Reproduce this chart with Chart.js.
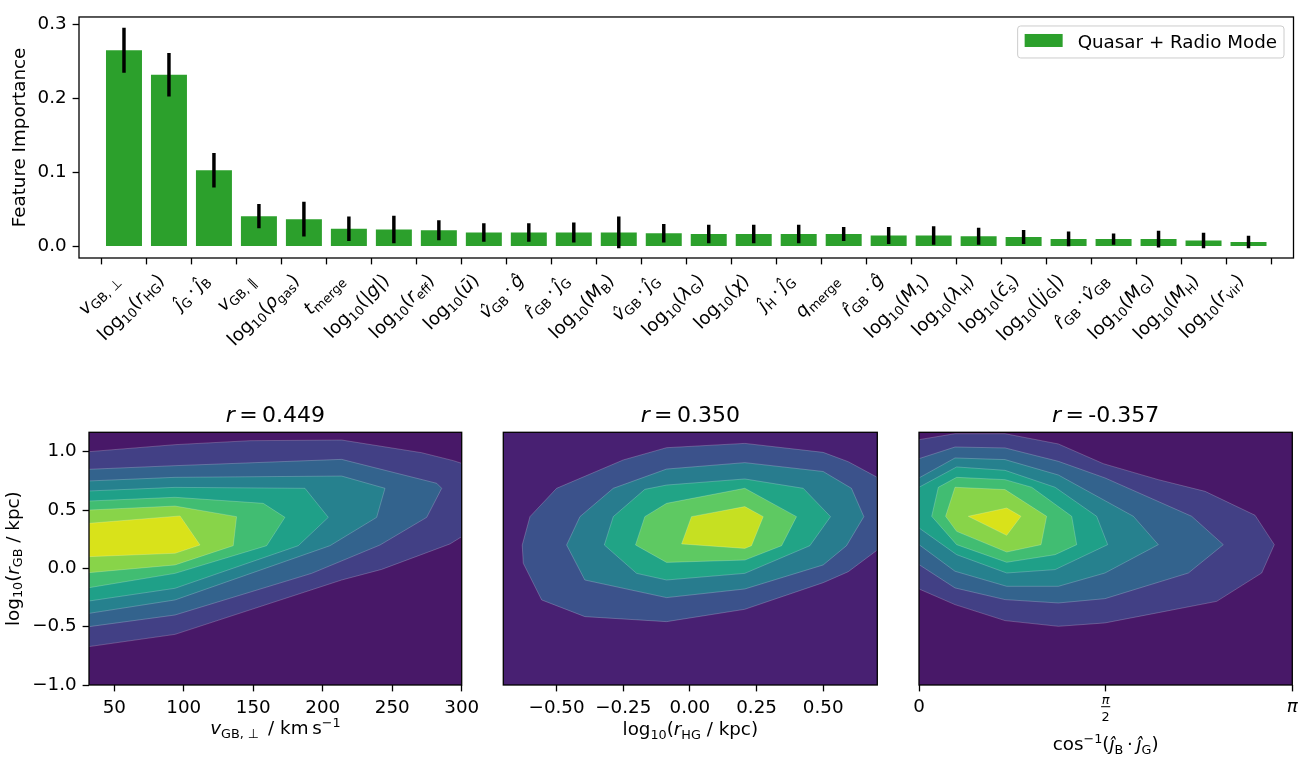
<!DOCTYPE html>
<html>
<head>
<meta charset="utf-8">
<title>Feature importance</title>
<script src="https://cdn.jsdelivr.net/npm/chart.js@4.4.1/dist/chart.umd.min.js"></script>
<style>
  html, body { margin: 0; background: #fff; }
  #fig { position: relative; width: 1315px; height: 762px; }
  #fig canvas { position: absolute; left: 0; top: 0; }
</style>
</head>
<body>
<div id="fig">
  <canvas id="importance" width="1315" height="762"></canvas>
  <canvas id="velPanel" width="1315" height="762"></canvas>
  <canvas id="rhgPanel" width="1315" height="762"></canvas>
  <canvas id="angPanel" width="1315" height="762"></canvas>
</div>
<script>
const FS = 18.3;
const TITLE_FS = 22;
const GREEN = '#2ca02c';

// label pieces: [text, style]  r = roman, i = italic, rs = roman subscript, rp = roman superscript
const dot = ['\u2009\u00b7\u2009', 'r'];
const lg = (sym, sub) => [['log', 'r'], ['10', 'rs'], ['(', 'r'], [sym, 'i']].concat(sub ? [[sub, 'rs']] : [], [[')', 'r']]);

// ---- top panel data
const featureLabels = [
  [['v', 'i'], ['GB, \u22a5', 'rs']],
  lg('r', 'HG'),
  [['\u0135', 'i'], ['G', 'rs'], dot, ['\u0135', 'i'], ['B', 'rs']],
  [['v', 'i'], ['GB, \u2225', 'rs']],
  lg('\u03c1', 'gas'),
  [['t', 'i'], ['merge', 'rs']],
  [['log', 'r'], ['10', 'rs'], ['(|', 'r'], ['g', 'i'], ['|)', 'r']],
  lg('r', 'eff'),
  lg('u\u0304'),
  [['v\u0302', 'i'], ['GB', 'rs'], dot, ['g\u0302', 'i']],
  [['r\u0302', 'i'], ['GB', 'rs'], dot, ['\u0135', 'i'], ['G', 'rs']],
  lg('M', 'B'),
  [['v\u0302', 'i'], ['GB', 'rs'], dot, ['\u0135', 'i'], ['G', 'rs']],
  lg('\u03bb', 'G'),
  lg('\u03c7'),
  [['\u0135', 'i'], ['H', 'rs'], dot, ['\u0135', 'i'], ['G', 'rs']],
  [['q', 'i'], ['merge', 'rs']],
  [['r\u0302', 'i'], ['GB', 'rs'], dot, ['g\u0302', 'i']],
  lg('M', '1'),
  lg('\u03bb', 'H'),
  lg('c\u0304', 's'),
  [['log', 'r'], ['10', 'rs'], ['(|', 'r'], ['j', 'i'], ['G', 'rs'], ['|)', 'r']],
  [['r\u0302', 'i'], ['GB', 'rs'], dot, ['v\u0302', 'i'], ['GB', 'rs']],
  lg('M', 'G'),
  lg('M', 'H'),
  lg('r', 'vir')
];
const importance = [0.265, 0.232, 0.103, 0.041, 0.037, 0.024, 0.023, 0.022, 0.019, 0.019, 0.019, 0.019, 0.018,
                    0.017, 0.017, 0.017, 0.017, 0.015, 0.015, 0.014, 0.013, 0.010, 0.010, 0.010, 0.008, 0.006];
const importanceErr = [0.030, 0.029, 0.023, 0.016, 0.023, 0.016, 0.018, 0.013, 0.012, 0.012, 0.013, 0.021, 0.012,
                       0.012, 0.012, 0.012, 0.009, 0.011, 0.012, 0.011, 0.009, 0.010, 0.007, 0.011, 0.010, 0.008];
const importanceTicks = [0, 0.1, 0.2, 0.3];
const seriesName = 'Quasar + Radio Mode';

// ---- bottom panels data
const rgbRange = [-1.0, 1.166];
const rgbTicks = [-1, -0.5, 0, 0.5, 1];
const velRange = [31.8, 300];
const velTicks = [50, 100, 150, 200, 250, 300];
const rhgRange = [-0.70, 0.703];
const rhgTicks = [-0.5, -0.25, 0, 0.25, 0.5];
const angRange = [0, Math.PI];
const angTicks = [0, Math.PI / 2, Math.PI];
const corrValues = ['0.449', '0.350', '-0.357'];

// filled contour levels, outermost first, [x, y] vertices
const velContours = [
  [[31.8, 1.0], [93.7, 1.06], [147.6, 1.094], [213.6, 1.10], [271.2, 0.991], [294, 0.923], [300, 0.9], [300, 0.271],
   [291.6, 0.209], [242.4, -0.009], [213.6, -0.1], [93.7, -0.566], [31.8, -0.671]],
  [[31.8, 0.849], [93.7, 0.88], [213.6, 0.934], [282, 0.729], [285.6, 0.686], [274.8, 0.437], [241.2, 0.2],
   [192, -0.043], [93.7, -0.4], [31.8, -0.5]],
  [[31.8, 0.749], [93.7, 0.78], [213.6, 0.791], [244.8, 0.686], [238.8, 0.437], [205.2, 0.194], [93.7, -0.271], [31.8, -0.386]],
  [[31.8, 0.663], [93.7, 0.694], [187.2, 0.686], [204, 0.437], [182.4, 0.194], [93.7, -0.171], [31.8, -0.28]],
  [[31.8, 0.577], [93.7, 0.609], [157.2, 0.557], [172.8, 0.437], [159.6, 0.194], [93.7, -0.043], [31.8, -0.166]],
  [[31.8, 0.5], [93.7, 0.534], [138, 0.443], [135.6, 0.194], [93.7, 0.029], [31.8, -0.037]],
  [[31.8, 0.386], [97.3, 0.449], [111.7, 0.2], [93.7, 0.129], [31.8, 0.1]]
];
const rhgContours = [
  [[-0.6, 0.443], [-0.5, 0.686], [-0.25, 0.929], [-0.0875, 1.034], [0.206, 1.071], [0.5, 0.994], [0.594, 0.914],
   [0.703, 0.78], [0.703, 0.157], [0.594, -0.029], [0.5, -0.123], [0.206, -0.351], [-0.0875, -0.457],
   [-0.394, -0.414], [-0.556, -0.271], [-0.625, 0.043], [-0.629, 0.2]],
  [[-0.4125, 0.443], [-0.2875, 0.686], [-0.0875, 0.851], [0.206, 0.906], [0.5, 0.83], [0.606, 0.686], [0.6525, 0.443],
   [0.5875, 0.194], [0.5, 0.029], [0.206, -0.177], [-0.0875, -0.251], [-0.394, -0.1], [-0.4625, 0.2]],
  [[-0.2875, 0.443], [-0.169, 0.677], [-0.0875, 0.714], [0.206, 0.766], [0.425, 0.686], [0.5275, 0.443], [0.45, 0.194],
   [0.206, -0.043], [-0.0875, -0.1], [-0.2, -0.043], [-0.321, 0.2]],
  [[-0.169, 0.443], [-0.0875, 0.557], [0.206, 0.686], [0.4, 0.443], [0.344, 0.194], [0.206, 0.071], [-0.0875, 0.051], [-0.204, 0.2]],
  [[0.006, 0.443], [0.206, 0.529], [0.275, 0.443], [0.231, 0.194], [0.206, 0.171], [-0.031, 0.209]]
];
const angContours = [
  [[0, 1.103], [0.303, 1.154], [0.724, 1.154], [1.173, 1.066], [1.551, 0.897], [2.014, 0.76], [2.407, 0.66], [2.828, 0.455],
   [2.99, 0.203], [2.884, -0.04], [2.505, -0.283], [2.014, -0.38], [1.565, -0.468], [1.173, -0.497], [0.724, -0.448],
   [0.303, -0.311], [0, -0.177]],
  [[0, 0.94], [0.303, 1.04], [0.724, 1.032], [1.173, 0.917], [1.565, 0.775], [2.295, 0.446], [2.561, 0.203], [2.267, -0.04],
   [1.565, -0.26], [1.173, -0.297], [0.724, -0.268], [0.303, -0.168], [0, 0.032]],
  [[0, 0.775], [0.303, 0.946], [0.724, 0.932], [1.173, 0.8], [1.804, 0.446], [2.014, 0.203], [1.565, -0.04], [1.173, -0.154],
   [0.738, -0.154], [0.303, -0.025], [0, 0.203]],
  [[0, 0.695], [0.317, 0.869], [0.724, 0.84], [1.145, 0.695], [1.495, 0.446], [1.588, 0.203], [1.145, -0.011], [0.738, -0.04],
   [0.317, 0.117], [0, 0.346]],
  [[0.107, 0.446], [0.163, 0.695], [0.317, 0.78], [0.724, 0.76], [0.948, 0.695], [1.285, 0.446], [1.327, 0.203], [1.145, 0.117],
   [0.738, 0.052], [0.317, 0.203]],
  [[0.224, 0.446], [0.303, 0.695], [0.724, 0.675], [1.074, 0.446], [1.027, 0.203], [0.738, 0.14], [0.317, 0.317]],
  [[0.415, 0.446], [0.738, 0.517], [0.858, 0.446], [0.738, 0.283]]
];
const viridis8 = ['#481868', '#424085', '#33638d', '#26818e', '#1fa088', '#41bd72', '#88d449', '#d9e21a'];
const viridis6 = ['#482072', '#3b528b', '#287c8e', '#21a486', '#5ec962', '#c6e022'];

const rgbLabel = [['log', 'r'], ['10', 'rs'], ['(', 'r'], ['r', 'i'], ['GB', 'rs'], [' / kpc)', 'r']];
const velLabel = [['v', 'i'], ['GB, \u22a5', 'rs'], ['\u2002/ km\u2009s', 'r'], ['\u22121', 'rp']];
const rhgLabel = [['log', 'r'], ['10', 'rs'], ['(', 'r'], ['r', 'i'], ['HG', 'rs'], [' / kpc)', 'r']];
const angLabel = [['cos', 'r'], ['\u22121', 'rp'], ['(', 'r'], ['\u0135', 'i'], ['B', 'rs'], dot, ['\u0135', 'i'], ['G', 'rs'], [')', 'r']];
const angTickLabels = [[['0', 'r']], { num: [['\u03c0', 'i']], den: [['2', 'r']] }, [['\u03c0', 'i']]];

Chart.defaults.font.family = 'DejaVu Sans';
Chart.defaults.font.size = FS;
Chart.defaults.color = '#000';

// ---- small text helpers (sub/superscripts)
function segStyle(style, fs) {
  const script = style[1] === 's' || style[1] === 'p';
  const size = script ? fs * 0.7 : fs;
  const font = (style[0] === 'i' ? 'italic ' : '') + size.toFixed(2) + 'px "DejaVu Sans"';
  const dy = style[1] === 's' ? fs * 0.2 : (style[1] === 'p' ? -fs * 0.37 : 0);
  return { font, dy };
}
function richWidth(ctx, segs, fs) {
  let w = 0;
  segs.forEach(([t, s]) => { ctx.font = segStyle(s, fs).font; w += ctx.measureText(t).width; });
  return w;
}
function drawRich(ctx, segs, fs, x, y) {
  let cx = x;
  segs.forEach(([t, s]) => {
    const st = segStyle(s, fs);
    ctx.font = st.font;
    ctx.fillText(t, cx, y + st.dy);
    cx += ctx.measureText(t).width;
  });
}

function fixedTicks(values) {
  return scale => { scale.ticks = values.map(v => ({ value: v })); };
}
const minus = s => s.replace('-', '\u2212');
const tickGrid = { drawOnChartArea: false, drawTicks: true, tickLength: 6.4, tickWidth: 1.3, tickColor: '#000' };

const framePlugin = {
  id: 'frame',
  afterDatasetsDraw(chart) {
    const { ctx, chartArea: a } = chart;
    ctx.save();
    ctx.strokeStyle = '#000';
    ctx.lineWidth = 1.3;
    ctx.strokeRect(a.left, a.top, a.right - a.left, a.bottom - a.top);
    ctx.restore();
  }
};

const richPlugin = {
  id: 'rich',
  afterDraw(chart, args, opts) {
    const { ctx, chartArea: a } = chart;
    ctx.save();
    ctx.fillStyle = '#000';
    ctx.textAlign = 'left';
    ctx.textBaseline = 'alphabetic';
    (opts.items || []).forEach(it => {
      const fs = it.fs || FS;
      const w = richWidth(ctx, it.segs, fs);
      let x, y, rot = 0;
      if (it.place === 'title') { x = (a.left + a.right) / 2; y = a.top - it.offset; }
      else if (it.place === 'xlabel') { x = (a.left + a.right) / 2; y = a.bottom + it.offset; }
      else { x = a.left - it.offset; y = (a.top + a.bottom) / 2; rot = -Math.PI / 2; }
      ctx.save();
      ctx.translate(x, y);
      ctx.rotate(rot);
      drawRich(ctx, it.segs, fs, -w / 2, 0);
      ctx.restore();
    });
    ctx.restore();
  }
};

// rotated feature names under the bars
const featureTickPlugin = {
  id: 'featureTicks',
  afterDraw(chart) {
    const { ctx, chartArea: a } = chart;
    const xs = chart.scales.x;
    const top = a.bottom + 12.8, asc = 0.8 * FS, desc = 0.3 * FS;
    ctx.save();
    ctx.fillStyle = '#000';
    featureLabels.forEach((segs, i) => {
      const w = richWidth(ctx, segs, FS);
      const px = xs.getPixelForValue(i);
      ctx.save();
      ctx.translate(px - (w + desc) / Math.SQRT2, top + (w + asc) / Math.SQRT2);
      ctx.rotate(-Math.PI / 4);
      drawRich(ctx, segs, FS, 0, 0);
      ctx.restore();
    });
    ctx.restore();
  }
};

const legendPlugin = {
  id: 'boxLegend',
  afterDraw(chart) {
    const { ctx, chartArea: a } = chart;
    const ds = chart.data.datasets.find(d => d.label);
    ctx.save();
    ctx.font = FS + 'px "DejaVu Sans"';
    const w = ctx.measureText(ds.label).width + 67, h = 32;
    const x = a.right - 9.5 - w, y = a.top + 9;
    ctx.beginPath();
    ctx.roundRect(x, y, w, h, 3);
    ctx.fillStyle = 'rgba(255,255,255,0.8)';
    ctx.fill();
    ctx.strokeStyle = '#cccccc';
    ctx.lineWidth = 1;
    ctx.stroke();
    ctx.fillStyle = ds.backgroundColor;
    ctx.fillRect(x + 7, y + 8, 38, 13);
    ctx.fillStyle = '#000';
    ctx.fillText(ds.label, x + 60, y + 22);
    ctx.restore();
  }
};

const angleTickPlugin = {
  id: 'angleTicks',
  afterDraw(chart) {
    const { ctx, chartArea: a } = chart;
    const xs = chart.scales.x;
    ctx.save();
    ctx.fillStyle = '#000';
    angTickLabels.forEach((lab, i) => {
      const px = xs.getPixelForValue(angTicks[i]);
      if (lab.num) {
        const sf = FS * 0.7;
        const wn = richWidth(ctx, lab.num, sf), wd = richWidth(ctx, lab.den, sf);
        drawRich(ctx, lab.num, sf, px - wn / 2, a.bottom + 18.5);
        const bw = Math.max(wn, wd) + 1;
        ctx.fillRect(px - bw / 2, a.bottom + 21.2, bw, 1);
        drawRich(ctx, lab.den, sf, px - wd / 2, a.bottom + 36);
      } else {
        const w = richWidth(ctx, lab, FS);
        drawRich(ctx, lab, FS, px - w / 2, a.bottom + 27);
      }
    });
    ctx.restore();
  }
};

// ---- top: feature importance bars
new Chart(document.getElementById('importance'), {
  type: 'bar',
  data: {
    datasets: [
      {
        label: seriesName,
        data: importance.map((v, i) => ({ x: i, y: v })),
        backgroundColor: GREEN,
        barPercentage: 0.8,
        categoryPercentage: 1,
        grouped: false,
        order: 2
      },
      {
        data: importance.map((v, i) => ({ x: i, y: [v - importanceErr[i], v + importanceErr[i]] })),
        backgroundColor: '#000',
        barThickness: 2.8,
        grouped: false,
        order: 1
      }
    ]
  },
  options: {
    responsive: false,
    animation: false,
    events: [],
    layout: { padding: { left: 0, top: 3, right: 21.5, bottom: 484 } },
    plugins: {
      legend: { display: false },
      tooltip: { enabled: false },
      rich: { items: [{ segs: [['Feature Importance', 'r']], place: 'ylabel', offset: 54 }] }
    },
    scales: {
      x: {
        type: 'linear', min: -1, max: 26, offset: false,
        afterBuildTicks: fixedTicks(featureLabels.map((_, i) => i)),
        ticks: { display: false },
        grid: tickGrid,
        border: { display: false },
        afterFit: s => { s.height = 20; }
      },
      y: {
        min: -0.0155, max: 0.31,
        afterBuildTicks: fixedTicks(importanceTicks),
        ticks: { padding: 6, callback: v => v.toFixed(1) },
        grid: tickGrid,
        border: { display: false },
        afterFit: s => { s.width = 79; }
      }
    }
  },
  plugins: [framePlugin, richPlugin, featureTickPlugin, legendPlugin]
});

// ---- bottom: filled contour panels
function contourPanel(canvasId, o) {
  const [x0, x1] = o.xr, [y0, y1] = rgbRange;
  const datasets = [{
    data: [{ x: x0, y: y0 }, { x: x1, y: y0 }, { x: x1, y: y1 }, { x: x0, y: y1 }, { x: x0, y: y0 }],
    backgroundColor: o.colors[0], borderWidth: 0, showLine: true, fill: 'shape', order: 0
  }];
  o.levels.forEach((poly, k) => {
    datasets.push({
      data: poly.concat([poly[0]]).map(([x, y]) => ({ x, y })),
      backgroundColor: o.colors[k + 1],
      borderColor: 'rgba(255,255,255,0.3)',
      borderWidth: 0.7,
      showLine: true,
      fill: 'shape',
      order: -(k + 1)
    });
  });
  return new Chart(document.getElementById(canvasId), {
    type: 'scatter',
    data: { datasets },
    options: {
      responsive: false,
      animation: false,
      events: [],
      layout: { padding: o.padding },
      elements: { point: { radius: 0 }, line: { tension: 0 } },
      plugins: {
        legend: { display: false },
        tooltip: { enabled: false },
        rich: { items: o.texts }
      },
      scales: {
        x: {
          type: 'linear', min: x0, max: x1,
          afterBuildTicks: fixedTicks(o.xTicks),
          ticks: { autoSkip: false, maxRotation: 0, padding: 6, callback: o.xFmt },
          grid: tickGrid,
          border: { display: false },
          afterFit: s => { s.height = 40; }
        },
        y: {
          display: o.showY, min: y0, max: y1,
          afterBuildTicks: fixedTicks(rgbTicks),
          ticks: { padding: 6, callback: v => minus(v.toFixed(1)) },
          grid: tickGrid,
          border: { display: false },
          afterFit: s => { s.width = o.showY ? 89 : 0; }
        }
      }
    },
    plugins: [framePlugin, richPlugin].concat(o.extra || [])
  });
}

const titleSegs = r => [['r', 'i'], ['\u2009=\u2009' + r, 'r']];

contourPanel('velPanel', {
  xr: velRange, xTicks: velTicks, xFmt: v => String(v), showY: true,
  levels: velContours, colors: viridis8,
  padding: { left: 0, top: 432.3, right: 853.3, bottom: 37 },
  texts: [
    { segs: titleSegs(corrValues[0]), fs: TITLE_FS, place: 'title', offset: 10.6 },
    { segs: velLabel, place: 'xlabel', offset: 49 },
    { segs: rgbLabel, place: 'ylabel', offset: 70.5 }
  ]
});
contourPanel('rhgPanel', {
  xr: rhgRange, xTicks: rhgTicks, xFmt: v => minus(v.toFixed(2)), showY: false,
  levels: rhgContours, colors: viridis6,
  padding: { left: 503.3, top: 432.3, right: 437.7, bottom: 37 },
  texts: [
    { segs: titleSegs(corrValues[1]), fs: TITLE_FS, place: 'title', offset: 10.6 },
    { segs: rhgLabel, place: 'xlabel', offset: 50 }
  ]
});
contourPanel('angPanel', {
  xr: angRange, xTicks: angTicks, xFmt: () => '', showY: false,
  levels: angContours, colors: viridis8,
  padding: { left: 919, top: 432.3, right: 22.7, bottom: 37 },
  texts: [
    { segs: titleSegs(corrValues[2]), fs: TITLE_FS, place: 'title', offset: 10.6 },
    { segs: angLabel, place: 'xlabel', offset: 65 }
  ],
  extra: [angleTickPlugin]
});
</script>
</body>
</html>
